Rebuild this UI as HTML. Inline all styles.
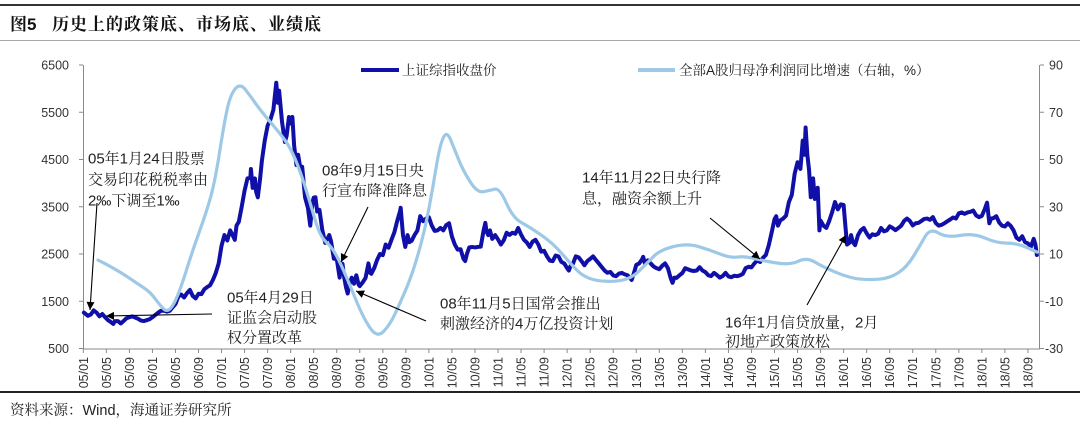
<!DOCTYPE html>
<html><head><meta charset="utf-8">
<style>
html,body{margin:0;padding:0;background:#fff;}
body{width:1080px;height:422px;overflow:hidden;}
svg{display:block;}
.ax{font-family:"Liberation Sans",Arial,sans-serif;font-size:12.5px;fill:#333;}
.cn{font-family:"Liberation Sans","Noto Serif CJK SC",serif;fill:#222;}
</style></head>
<body>
<svg width="1080" height="422" viewBox="0 0 1080 422" xmlns="http://www.w3.org/2000/svg">
<defs>
<marker id="ah" viewBox="0 0 10 10" refX="10" refY="5" markerWidth="10" markerHeight="8" markerUnits="userSpaceOnUse" orient="auto">
<path d="M0,0 L10,5 L0,10 z" fill="#000"/>
</marker>
</defs>
<!-- header -->
<rect x="0" y="4" width="1080" height="2" fill="#333"/>
<text x="10" y="30" class="cn" style="font-size:17px;font-weight:bold;fill:#111">图5</text>
<text x="52" y="30" class="cn" style="font-size:17px;font-weight:bold;letter-spacing:1px;fill:#111">历史上的政策底、市场底、业绩底</text>
<rect x="0" y="40" width="1080" height="1" fill="#aaa"/>

<!-- axes -->
<g stroke="#8a8a8a" stroke-width="1" fill="none">
<line x1="83.5" y1="65" x2="83.5" y2="349"/>
<line x1="1039.5" y1="65" x2="1039.5" y2="349"/>
<line x1="83" y1="349" x2="1040" y2="349"/>
<line x1="79" y1="65" x2="83" y2="65"/>
<line x1="79" y1="112.25" x2="83" y2="112.25"/>
<line x1="79" y1="159.5" x2="83" y2="159.5"/>
<line x1="79" y1="206.75" x2="83" y2="206.75"/>
<line x1="79" y1="254" x2="83" y2="254"/>
<line x1="79" y1="301.25" x2="83" y2="301.25"/>
<line x1="79" y1="348.5" x2="83" y2="348.5"/>
<line x1="1040" y1="65" x2="1044" y2="65"/>
<line x1="1040" y1="112.25" x2="1044" y2="112.25"/>
<line x1="1040" y1="159.5" x2="1044" y2="159.5"/>
<line x1="1040" y1="206.75" x2="1044" y2="206.75"/>
<line x1="1040" y1="254" x2="1044" y2="254"/>
<line x1="1040" y1="301.25" x2="1044" y2="301.25"/>
<line x1="1040" y1="348.5" x2="1044" y2="348.5"/>
</g>
<g stroke="#8a8a8a" stroke-width="1">
<line x1="83.3" y1="349" x2="83.3" y2="353"/><line x1="106.34" y1="349" x2="106.34" y2="353"/><line x1="129.38" y1="349" x2="129.38" y2="353"/><line x1="152.42" y1="349" x2="152.42" y2="353"/><line x1="175.46" y1="349" x2="175.46" y2="353"/><line x1="198.5" y1="349" x2="198.5" y2="353"/><line x1="221.54" y1="349" x2="221.54" y2="353"/><line x1="244.58" y1="349" x2="244.58" y2="353"/><line x1="267.62" y1="349" x2="267.62" y2="353"/><line x1="290.66" y1="349" x2="290.66" y2="353"/><line x1="313.7" y1="349" x2="313.7" y2="353"/><line x1="336.74" y1="349" x2="336.74" y2="353"/><line x1="359.78" y1="349" x2="359.78" y2="353"/><line x1="382.82" y1="349" x2="382.82" y2="353"/><line x1="405.86" y1="349" x2="405.86" y2="353"/><line x1="428.9" y1="349" x2="428.9" y2="353"/><line x1="451.94" y1="349" x2="451.94" y2="353"/><line x1="474.98" y1="349" x2="474.98" y2="353"/><line x1="498.02" y1="349" x2="498.02" y2="353"/><line x1="521.06" y1="349" x2="521.06" y2="353"/><line x1="544.1" y1="349" x2="544.1" y2="353"/><line x1="567.14" y1="349" x2="567.14" y2="353"/><line x1="590.18" y1="349" x2="590.18" y2="353"/><line x1="613.22" y1="349" x2="613.22" y2="353"/><line x1="636.26" y1="349" x2="636.26" y2="353"/><line x1="659.3" y1="349" x2="659.3" y2="353"/><line x1="682.34" y1="349" x2="682.34" y2="353"/><line x1="705.38" y1="349" x2="705.38" y2="353"/><line x1="728.42" y1="349" x2="728.42" y2="353"/><line x1="751.46" y1="349" x2="751.46" y2="353"/><line x1="774.5" y1="349" x2="774.5" y2="353"/><line x1="797.54" y1="349" x2="797.54" y2="353"/><line x1="820.58" y1="349" x2="820.58" y2="353"/><line x1="843.62" y1="349" x2="843.62" y2="353"/><line x1="866.66" y1="349" x2="866.66" y2="353"/><line x1="889.7" y1="349" x2="889.7" y2="353"/><line x1="912.74" y1="349" x2="912.74" y2="353"/><line x1="935.78" y1="349" x2="935.78" y2="353"/><line x1="958.82" y1="349" x2="958.82" y2="353"/><line x1="981.86" y1="349" x2="981.86" y2="353"/><line x1="1004.9" y1="349" x2="1004.9" y2="353"/><line x1="1027.94" y1="349" x2="1027.94" y2="353"/>
</g>

<!-- left labels -->
<g class="ax" text-anchor="end">
<text x="69" y="69.5">6500</text>
<text x="69" y="116.75">5500</text>
<text x="69" y="164">4500</text>
<text x="69" y="211.25">3500</text>
<text x="69" y="258.5">2500</text>
<text x="69" y="305.75">1500</text>
<text x="69" y="353">500</text>
</g>
<!-- right labels -->
<g class="ax" text-anchor="start">
<text x="1049" y="69.5">90</text>
<text x="1049" y="116.75">70</text>
<text x="1049" y="164">50</text>
<text x="1049" y="211.25">30</text>
<text x="1049" y="258.5">10</text>
<text x="1045" y="305.75">-10</text>
<text x="1045" y="353">-30</text>
</g>
<!-- x labels -->
<g class="ax" text-anchor="end">
<text transform="translate(87.8,357) rotate(-90)">05/01</text>
<text transform="translate(110.84,357) rotate(-90)">05/05</text>
<text transform="translate(133.88,357) rotate(-90)">05/09</text>
<text transform="translate(156.92,357) rotate(-90)">06/01</text>
<text transform="translate(179.96,357) rotate(-90)">06/05</text>
<text transform="translate(203,357) rotate(-90)">06/09</text>
<text transform="translate(226.04,357) rotate(-90)">07/01</text>
<text transform="translate(249.08,357) rotate(-90)">07/05</text>
<text transform="translate(272.12,357) rotate(-90)">07/09</text>
<text transform="translate(295.16,357) rotate(-90)">08/01</text>
<text transform="translate(318.2,357) rotate(-90)">08/05</text>
<text transform="translate(341.24,357) rotate(-90)">08/09</text>
<text transform="translate(364.28,357) rotate(-90)">09/01</text>
<text transform="translate(387.32,357) rotate(-90)">09/05</text>
<text transform="translate(410.36,357) rotate(-90)">09/09</text>
<text transform="translate(433.4,357) rotate(-90)">10/01</text>
<text transform="translate(456.44,357) rotate(-90)">10/05</text>
<text transform="translate(479.48,357) rotate(-90)">10/09</text>
<text transform="translate(502.52,357) rotate(-90)">11/01</text>
<text transform="translate(525.56,357) rotate(-90)">11/05</text>
<text transform="translate(548.6,357) rotate(-90)">11/09</text>
<text transform="translate(571.64,357) rotate(-90)">12/01</text>
<text transform="translate(594.68,357) rotate(-90)">12/05</text>
<text transform="translate(617.72,357) rotate(-90)">12/09</text>
<text transform="translate(640.76,357) rotate(-90)">13/01</text>
<text transform="translate(663.8,357) rotate(-90)">13/05</text>
<text transform="translate(686.84,357) rotate(-90)">13/09</text>
<text transform="translate(709.88,357) rotate(-90)">14/01</text>
<text transform="translate(732.92,357) rotate(-90)">14/05</text>
<text transform="translate(755.96,357) rotate(-90)">14/09</text>
<text transform="translate(779,357) rotate(-90)">15/01</text>
<text transform="translate(802.04,357) rotate(-90)">15/05</text>
<text transform="translate(825.08,357) rotate(-90)">15/09</text>
<text transform="translate(848.12,357) rotate(-90)">16/01</text>
<text transform="translate(871.16,357) rotate(-90)">16/05</text>
<text transform="translate(894.2,357) rotate(-90)">16/09</text>
<text transform="translate(917.24,357) rotate(-90)">17/01</text>
<text transform="translate(940.28,357) rotate(-90)">17/05</text>
<text transform="translate(963.32,357) rotate(-90)">17/09</text>
<text transform="translate(986.36,357) rotate(-90)">18/01</text>
<text transform="translate(1009.4,357) rotate(-90)">18/05</text>
<text transform="translate(1032.44,357) rotate(-90)">18/09</text>
</g>

<!-- SSE index (left axis) -->
<polyline fill="none" stroke="#1010a8" stroke-width="4" stroke-linejoin="round" stroke-linecap="round" vector-effect="non-scaling-stroke"
transform="matrix(5.76 0 0 -0.04725 83.3 372.125)"
points="0.1,1260 0.8,1191 1.3,1220 1.8,1306 2.3,1260 2.8,1181 3.3,1230 3.8,1159 4.3,1100 4.8,1060 5.2,1020 5.5,1080 6.0,1080 6.5,1030 7.0,1083 7.5,1140 8.0,1162 8.5,1180 9.0,1155 9.5,1130 10.0,1092 10.5,1080 11.0,1099 11.5,1120 12.0,1161 12.5,1210 13.0,1258 13.5,1300 14.0,1299 14.5,1280 15.0,1298 15.5,1370 16.0,1440 16.5,1600 17.0,1641 17.5,1580 18.0,1672 18.5,1740 19.0,1612 19.5,1560 20.0,1658 20.5,1650 21.0,1752 21.5,1800 22.0,1837 22.5,1950 23.0,2099 23.5,2300 24.0,2675 24.5,2900 25.0,2786 25.5,3000 26.0,2881 26.3,2800 26.6,3100 27.0,3183 27.5,3500 28.0,3841 28.5,4100 29.0,4109 29.1,4300 29.4,3900 29.8,4100 30.0,3820 30.3,3700 30.7,4100 31.0,4471 31.5,4900 32.0,5218 32.5,5350 33.0,5552 33.5,6124 33.8,5700 34.0,5954 34.5,5300 35.0,4871 35.3,5000 35.7,5400 36.0,5262 36.3,5400 36.6,4800 37.0,4383 37.3,4600 37.7,4300 38.0,4348 38.5,3700 39.0,3473 39.4,3100 39.8,3600 40.0,3693 40.3,3700 40.6,3400 41.0,3433 41.5,3000 42.0,2736 42.3,2800 42.7,2900 43.0,2775 43.5,2400 44.0,2397 44.5,2000 44.8,2250 45.0,2293 45.3,2000 45.6,1800 45.9,1664 46.0,1729 46.3,1900 46.6,2000 47.0,1871 47.4,2050 47.8,1850 48.0,1821 48.5,1900 49.0,1991 49.5,2300 49.8,2100 50.0,2082 50.5,2200 51.0,2373 51.5,2500 52.0,2477 52.5,2700 53.0,2633 53.5,2800 54.0,2959 54.5,3200 55.0,3412 55.1,3478 55.5,2900 55.9,2650 56.3,2900 56.6,2750 57.0,2779 57.5,2900 58.0,2996 58.5,3300 59.0,3195 59.5,3250 60.0,3277 60.5,3100 61.0,2989 61.5,3000 62.0,3051 62.5,3000 63.0,3110 63.5,3150 64.0,2870 64.5,2700 65.0,2592 65.5,2600 66.0,2398 66.3,2350 66.6,2500 67.0,2638 67.5,2650 68.0,2639 68.5,2650 69.0,2656 69.5,3000 69.8,3159 70.0,2979 70.3,2900 70.6,3000 71.0,2820 71.5,2900 72.0,2808 72.5,2700 73.0,2791 73.5,2950 74.0,2905 74.5,2950 75.0,2928 75.5,3050 76.0,2911 76.5,2800 77.0,2743 77.5,2650 78.0,2762 78.5,2800 79.0,2701 79.5,2550 80.0,2568 80.5,2450 81.0,2359 81.5,2350 82.0,2468 82.5,2450 83.0,2333 83.5,2300 84.0,2199 84.3,2150 84.6,2250 85.0,2292 85.5,2450 86.0,2428 86.5,2350 87.0,2263 87.5,2350 88.0,2397 88.5,2450 89.0,2373 89.5,2300 90.0,2225 90.5,2150 91.0,2103 91.5,2120 92.0,2047 92.5,2030 93.0,2086 93.5,2100 94.0,2069 94.5,2050 95.0,1980 95.2,1950 95.6,2100 96.0,2269 96.5,2300 97.0,2385 97.2,2440 97.5,2300 98.0,2366 98.5,2300 99.0,2237 99.5,2200 100.0,2178 100.5,2250 101.0,2301 101.5,2200 102.0,1979 102.3,1890 102.6,2000 103.0,1994 103.5,2050 104.0,2098 104.5,2200 105.0,2175 105.5,2150 106.0,2141 106.5,2150 107.0,2220 107.5,2150 108.0,2116 108.5,2050 109.0,2033 109.5,2100 110.0,2056 110.5,2000 111.0,2033 111.5,2100 112.0,2026 112.5,2010 113.0,2039 113.5,2030 114.0,2048 114.5,2080 115.0,2202 115.5,2230 116.0,2217 116.5,2300 117.0,2364 117.5,2330 118.0,2420 118.5,2480 119.0,2683 119.5,2950 120.0,3235 120.3,3300 120.6,3100 121.0,3211 121.5,3250 122.0,3310 122.5,3600 123.0,3748 123.5,4200 124.0,4442 124.5,4300 124.9,4900 125.2,4600 125.4,5178 125.7,4600 126.0,4277 126.3,3700 126.7,4100 127.0,3664 127.5,3900 127.8,3000 128.0,3206 128.5,3100 129.0,3053 129.5,3200 130.0,3383 130.5,3600 131.0,3445 131.5,3550 132.0,3539 132.3,3100 132.6,2700 133.0,2738 133.3,2900 133.6,2750 134.0,2688 134.5,2900 135.0,3004 135.5,3050 136.0,2938 136.5,2850 137.0,2917 137.5,2900 138.0,2930 138.5,3050 139.0,2979 139.5,3000 140.0,3085 140.5,3050 141.0,3005 141.5,3050 142.0,3100 142.5,3200 143.0,3250 143.5,3200 144.0,3104 144.5,3150 145.0,3159 145.5,3200 146.0,3242 146.5,3250 147.0,3223 147.5,3280 148.0,3155 148.5,3100 149.0,3117 149.5,3150 150.0,3192 150.5,3230 151.0,3273 151.5,3250 152.0,3361 152.5,3380 153.0,3349 153.5,3380 154.0,3393 154.5,3420 155.0,3317 155.5,3280 156.0,3307 156.5,3450 156.9,3587 157.0,3481 157.3,3150 157.6,3250 158.0,3259 158.5,3300 159.0,3169 159.5,3100 160.0,3082 160.5,3150 161.0,3095 161.5,3000 162.0,2847 162.5,2800 163.0,2876 163.5,2750 164.0,2725 164.5,2650 165.0,2821 165.3,2700 165.55,2480"/>

<!-- profit growth (right axis), smoothed -->
<path fill="none" stroke="#9ec9e6" stroke-width="3.2" stroke-linejoin="round" stroke-linecap="round" vector-effect="non-scaling-stroke"
transform="matrix(5.76 0 0 -2.3625 83.3 277.625)"
d="M2.55 7.45 L3.575 6.175 Q4.6 4.9 5.9 3.0 Q7.2 1.1 8.5 -1.05 Q9.8 -3.2 10.7 -4.65 Q11.6 -6.1 12.45 -8.85 Q13.3 -11.6 13.9 -13.1 Q14.5 -14.6 15.1 -13.1 Q15.7 -11.6 16.4 -7.4 Q17.1 -3.2 18.05 4.25 Q19.0 11.7 20.25 20.15 Q21.5 28.6 22.2 34.95 Q22.9 41.3 23.65 52.95 Q24.4 64.6 24.95 70.95 Q25.5 77.3 26.35 79.85 Q27.2 82.4 28.05 79.85 Q28.9 77.3 29.8 74.1 Q30.7 70.9 32.4 66.05 Q34.1 61.2 35.0 58.2 Q35.9 55.2 36.75 50.35 Q37.6 45.5 38.5 38.55 Q39.4 31.6 40.25 24.4 Q41.1 17.2 42.25 14.85 Q43.4 12.5 44.6 6.15 Q45.8 -0.2 47.2 -8.65 Q48.6 -17.1 49.8 -21.35 Q51.0 -25.6 52.1 -22.85 Q53.2 -20.1 54.1 -15.45 Q55.0 -10.8 56.1 -4.45 Q57.2 1.9 58.25 11.0 Q59.3 20.1 60.0 29.2 Q60.7 38.3 61.3 47.2 Q61.9 56.1 62.5 59.25 Q63.1 62.4 63.8 58.2 Q64.5 54.0 65.2 49.75 Q65.9 45.5 67.15 40.65 Q68.4 35.8 69.5 36.4 Q70.6 37.0 71.45 37.45 Q72.3 37.9 73.45 31.55 Q74.6 25.2 76.05 23.3 Q77.5 21.4 79.5 18.0 Q81.5 14.6 83.0 10.4 Q84.5 6.2 85.65 3.25 Q86.8 0.3 88.5 -0.8 Q90.2 -1.9 92.55 -1.45 Q94.9 -1.0 96.4 2.6 Q97.9 6.2 99.0 8.95 Q100.1 11.7 102.45 13.15 Q104.8 14.6 106.8 13.15 Q108.8 11.7 110.55 10.0 Q112.3 8.3 113.55 8.7 Q114.8 9.1 116.15 8.25 Q117.5 7.4 120.1 6.3 Q122.7 5.2 124.15 6.95 Q125.6 8.7 127.0 6.6 Q128.4 4.5 130.75 2.15 Q133.1 -0.2 134.85 -0.6 Q136.6 -1.0 138.35 -0.6 Q140.1 -0.2 141.55 2.15 Q143.0 4.5 144.15 9.15 Q145.3 13.8 146.15 17.4 Q147.0 21.0 148.45 18.9 Q149.9 16.8 152.2 17.85 Q154.5 18.9 156.55 16.75 Q158.6 14.6 160.35 14.6 Q162.1 14.6 163.85 12.7 L165.6 10.8"/>

<!-- legend -->
<line x1="361" y1="70" x2="399" y2="70" stroke="#1010a8" stroke-width="4"/>
<text x="402" y="75" class="cn" style="font-size:13.5px">上证综指收盘价</text>
<line x1="638" y1="70" x2="675" y2="70" stroke="#9ec9e6" stroke-width="4"/>
<text x="679" y="75" class="cn" style="font-size:13.5px">全部A股归母净利润同比增速（右轴，%）</text>

<!-- arrows -->
<g stroke="#000" stroke-width="1.1" fill="none">
<line x1="97" y1="203" x2="90" y2="310" marker-end="url(#ah)"/>
<line x1="212" y1="314" x2="106" y2="316" marker-end="url(#ah)"/>
<line x1="368" y1="207" x2="341" y2="262" marker-end="url(#ah)"/>
<line x1="426" y1="321" x2="356" y2="291" marker-end="url(#ah)"/>
<line x1="710" y1="218" x2="760" y2="259" marker-end="url(#ah)"/>
<line x1="807" y1="305" x2="846" y2="235" marker-end="url(#ah)"/>
</g>

<!-- annotations -->
<g class="cn" style="font-size:15px">
<text x="88" y="163.5">05年1月24日股票</text>
<text x="88" y="184.5">交易印花税税率由</text>
<text x="88" y="205.5">2‰下调至1‰</text>
<text x="227" y="302.5">05年4月29日</text>
<text x="227" y="322.5">证监会启动股</text>
<text x="227" y="342.5">权分置改革</text>
<text x="322" y="175.5">08年9月15日央</text>
<text x="322" y="195.5">行宣布降准降息</text>
<text x="440" y="308.5">08年11月5日国常会推出</text>
<text x="440" y="328.5">刺激经济的4万亿投资计划</text>
<text x="582" y="182.5">14年11月22日央行降</text>
<text x="582" y="203.5">息，融资余额上升</text>
<text x="725" y="327.5">16年1月信贷放量，2月</text>
<text x="725" y="346.5">初地产政策放松</text>
</g>

<!-- footer -->
<rect x="0" y="391" width="1080" height="2" fill="#222"/>
<text x="10" y="415" class="cn" style="font-size:14.5px">资料来源：Wind，海通证券研究所</text>
</svg>
</body></html>
